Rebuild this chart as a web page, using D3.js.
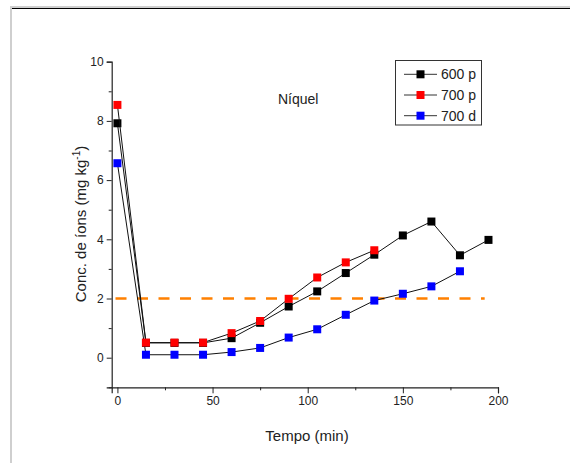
<!DOCTYPE html>
<html><head><meta charset="utf-8">
<script src="https://cdn.jsdelivr.net/npm/d3@7"></script>
<style>body{margin:0;background:#fff}svg{display:block}text{font-family:"Liberation Sans",Arial,sans-serif;fill:#222}</style>
</head><body><svg id="c" width="570" height="463"></svg>
<script>
const times = [0,15,30,45,60,75,90,105,120,135,150,165,180,195];
const s600p = [7.92,0.5,0.5,0.5,0.66,1.18,1.73,2.24,2.86,3.48,4.13,4.6,3.46,3.98];
const s700p = [8.54,0.51,0.51,0.51,0.83,1.24,1.99,2.71,3.22,3.63];
const s700d = [6.57,0.1,0.1,0.1,0.19,0.33,0.68,0.96,1.45,1.93,2.16,2.41,2.92];
const seriesNames = ["600 p","700 p","700 d"];
const seriesColors = ["#000000","#ff0000","#0000ff"];
const refLevel = 2;
const refRange = [-1, 193];
const xTicks = [0,50,100,150,200];
const yTicks = [0,2,4,6,8,10];
const titleText = "Níquel";

const svg = d3.select("#c");
// page frame
svg.append("rect").attr("x",10).attr("y",6).attr("width",2).attr("height",457).attr("fill","#cfcfcf");
svg.append("rect").attr("x",10).attr("y",6).attr("width",560).attr("height",2).attr("fill","#cfcfcf");
svg.append("line").attr("x1",12).attr("x2",570).attr("y1",8.5).attr("y2",8.5).attr("stroke","#000").attr("stroke-width",1);

const x = d3.scaleLinear().domain([-3,200]).range([111.7,498]);
const y = d3.scaleLinear().domain([-1,10]).range([387.3,61.7]);

// axes
const xAxis = d3.axisBottom(x).tickValues(xTicks).tickSize(6).tickPadding(3).tickFormat(d3.format("d"));
svg.append("g").attr("transform",`translate(0,${y(-1)})`).call(xAxis);
svg.append("g").attr("transform",`translate(0,${y(-1)})`)
  .call(d3.axisBottom(x).tickValues([25,75,125,175]).tickSize(3).tickFormat(""))
  .select(".domain").remove();
svg.append("g").attr("transform",`translate(${x(-3)},0)`)
  .call(d3.axisLeft(y).tickValues(yTicks).tickSize(5).tickPadding(3));
svg.append("g").attr("transform",`translate(${x(-3)},0)`)
  .call(d3.axisLeft(y).tickValues([-1,1,3,5,7,9]).tickSize(3).tickFormat(""))
  .select(".domain").remove();
svg.selectAll(".domain").attr("stroke","#222").attr("stroke-width",1.2);
svg.selectAll(".tick line").attr("stroke","#222");
svg.selectAll(".tick text").attr("font-size",12).attr("font-family","Liberation Sans, Arial").attr("fill","#222");

// reference dashed line
svg.append("line").attr("x1",x(refRange[0])).attr("x2",x(refRange[1]))
  .attr("y1",y(refLevel)).attr("y2",y(refLevel))
  .attr("stroke","#ff8000").attr("stroke-width",2.6).attr("stroke-dasharray","11,10.5");

const all = [s600p,s700p,s700d];
const line = d3.line().x((d,i)=>x(times[i])).y(d=>y(d));
[2,0,1].forEach(k=>{
  const g = svg.append("g");
  g.append("path").datum(all[k]).attr("d",line).attr("fill","none").attr("stroke","#111").attr("stroke-width",1);
  g.selectAll("rect").data(all[k]).enter().append("rect")
    .attr("x",(d,i)=>x(times[i])-4).attr("y",d=>y(d)-4)
    .attr("width",8).attr("height",8).attr("fill",seriesColors[k]);
});

// legend
const lg = svg.append("g");
lg.append("rect").attr("x",395.5).attr("y",60.5).attr("width",86).attr("height",64.5)
  .attr("fill","#fff").attr("stroke","#333").attr("stroke-width",1);
seriesNames.forEach((n,i)=>{
  const yy = 74.3 + i*20.7;
  lg.append("line").attr("x1",404).attr("x2",437).attr("y1",yy).attr("y2",yy).attr("stroke","#333").attr("stroke-width",1);
  lg.append("rect").attr("x",416.5).attr("y",yy-4).attr("width",8).attr("height",8).attr("fill",seriesColors[i]);
  lg.append("text").attr("x",441).attr("y",yy+5).attr("font-size",14).text(n);
});

svg.append("text").attr("x",278).attr("y",104).attr("font-size",14).text(titleText);

svg.append("text").attr("x",307).attr("y",441).attr("text-anchor","middle").attr("font-size",15).text("Tempo (min)");
const yl = svg.append("text").attr("transform","translate(86,224) rotate(-90)").attr("text-anchor","middle").attr("font-size",15);
yl.append("tspan").text("Conc. de íons (mg kg");
yl.append("tspan").attr("font-size",10).attr("dy",-6).text("-1");
yl.append("tspan").attr("dy",6).text(")");
</script></body></html>
